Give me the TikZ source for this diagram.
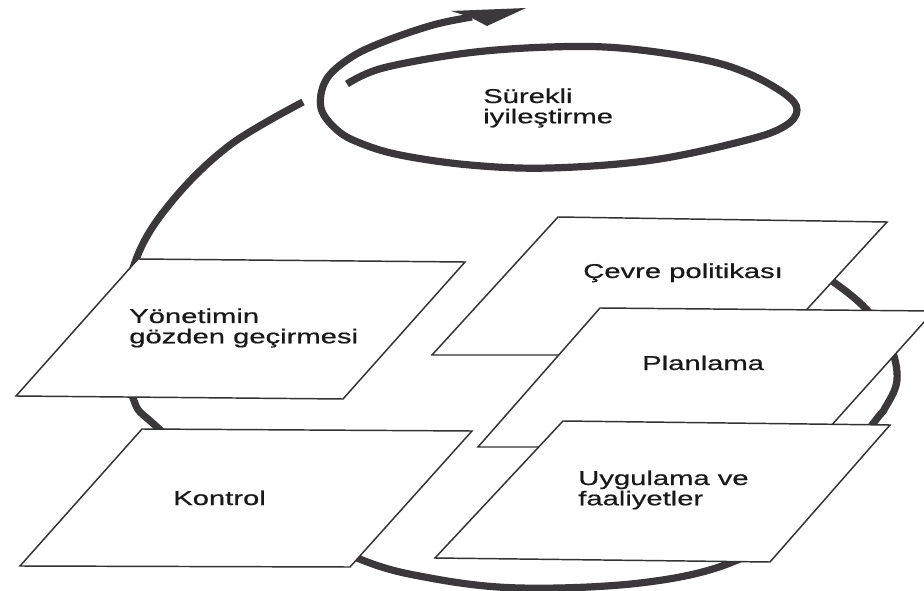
\documentclass[tikz,border=0pt]{standalone}
\usepackage{fontspec}
\newfontfamily\labfont[FakeStretch=1.46,FakeBold=0.6]{Liberation Sans}
\definecolor{loopcol}{RGB}{60,55,58}
\definecolor{edgecol}{RGB}{50,50,50}
\definecolor{txtcol}{RGB}{25,25,25}
\newcommand{\twolines}[2]{\begin{tabular}[t]{@{}l@{}}#1\\#2\end{tabular}}
\begin{document}
\begin{tikzpicture}[x=0.75pt,y=-0.75pt,
  cyclestroke/.style={draw=loopcol,line width=5.4pt,line cap=butt},
  card/.style={draw=edgecol,fill=white,line width=1.1pt,line join=miter},
  lab/.style={anchor=base west,inner sep=0pt,text=txtcol,
    font=\labfont\fontsize{15pt}{14.5pt}\selectfont}]
\useasboundingbox (0,0) rectangle (924,591);
\fill[white] (0,0) rectangle (924,591);

% big cycle (mostly hidden under the cards)
\draw[cyclestroke] plot[smooth,tension=0.6] coordinates {
 (800,263) (832,281) (867,310) (890,345) (897,380) (885,408) (872,425)
 (800,520) (730,563) (640,583) (520,588) (430,578) (357,558)
 (250,505) (157,427) (133,398) (122,330) (137,257) (173,200) (230,145) (303,102)};

% spiral around "Surekli iyilestirme"
\draw[cyclestroke] plot[smooth,tension=0.6] coordinates {
 (347,84) (383,68) (467,53) (550,47) (620,48) (700,59) (747,73) (785,94) (797,110)
 (785,126) (747,140) (653,160) (550,168) (470,165) (400,155) (360,143) (337,130)
 (321,108) (326,80) (350,58) (383,42) (433,25) (472,17)};
\coordinate (hb1) at (451,11);
\coordinate (htip) at (526,8);
\coordinate (hb2) at (487,26);
\fill[loopcol] (hb1) -- (htip) -- (hb2) -- (470,17) -- cycle;

% cards
\draw[card] (138,259) -- (465,262) -- (343,399) -- (16,396) -- cycle;
\draw[card] (142,429) -- (472,431) -- (350,567) -- (20,566) -- cycle;
\draw[card] (558,217) -- (887,222) -- (765,355) -- (432,355) -- cycle;
\draw[card] (600,308) -- (934,311) -- (812,447) -- (478,447) -- cycle;
\draw[card] (563,421) -- (890,425) -- (770,562) -- (435,558) -- cycle;

% labels
\node[lab] (sur) at (483,103) {\twolines{Sürekli}{iyileştirme}};
\node[lab] (yon) at (129,323) {\twolines{Yönetimin}{gözden geçirmesi}};
\node[lab] (kon) at (173,505) {Kontrol};
\node[lab] (cev) at (583,278) {Çevre politikası};
\node[lab] (pla) at (642,370) {Planlama};
\node[lab] (uyg) at (578,485) {\twolines{Uygulama ve}{faaliyetler}};
\end{tikzpicture}
\end{document}
